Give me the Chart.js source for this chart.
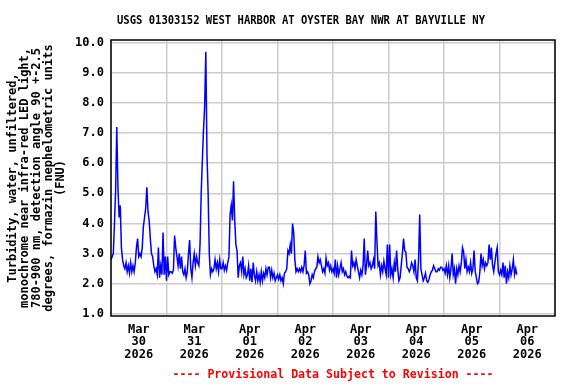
<!DOCTYPE html>
<html>
<head>
<meta charset="utf-8">
<script src="https://cdn.jsdelivr.net/npm/chart.js@4.4.0/dist/chart.umd.min.js"></script>
<style>
  html, body { margin: 0; padding: 0; background: #fff; }
</style>
</head>
<body>
<canvas id="turbidity-chart" width="576" height="384"></canvas>
<script>
const chartTitle = 'USGS 01303152 WEST HARBOR AT OYSTER BAY NWR AT BAYVILLE NY';
const footerNote = '---- Provisional Data Subject to Revision ----';
const yTitleLines = [
    'Turbidity, water, unfiltered,',
    'monochrome near infra-red LED light,',
    '780-900 nm, detection angle 90 +-2.5',
    'degrees, formazin nephelometric units',
    '(FNU)'
];

// x labels, one per day (drawn at noon)
const dayMonths = ['Mar', 'Mar', 'Apr', 'Apr', 'Apr', 'Apr', 'Apr', 'Apr'];
const dayNums = ['30', '31', '01', '02', '03', '04', '05', '06'];
const dayYears = ['2026', '2026', '2026', '2026', '2026', '2026', '2026', '2026'];
const yTickValues = [1, 2, 3, 4, 5, 6, 7, 8, 9, 10];

// readings every half hour, starting Mar 30 00:00
const stepHours = 0.5;
const mar30 = [2.8, 2.9, 3.0, 4.0, 5.1, 7.2, 5.2, 4.2, 4.6, 3.2, 2.8, 2.6, 2.5, 2.7, 2.4, 2.6,
    2.35, 2.7, 2.4, 2.6, 2.4, 2.7, 3.2, 3.5, 2.9, 3.0, 2.9, 3.2, 3.9, 4.2, 4.5, 5.2,
    4.4, 4.1, 3.5, 3.0, 2.9, 2.6, 2.4, 2.5, 2.3, 3.2, 2.2, 2.6, 2.3, 3.7, 2.3, 2.9];
const mar31 = [2.1, 2.9, 2.3, 2.4, 2.4, 2.35, 2.45, 3.6, 3.2, 2.9, 2.6, 3.0, 2.5, 2.9, 2.4, 2.3,
    2.5, 2.2, 2.4, 3.0, 3.45, 2.5, 2.2, 2.7, 3.0, 2.6, 2.9, 2.7, 2.6, 3.3, 5.0, 6.1,
    7.1, 7.9, 9.7, 6.3, 5.0, 3.0, 2.3, 2.5, 2.4, 2.5, 2.8, 2.5, 2.7, 2.4, 2.8, 2.5];
const apr01 = [2.5, 2.7, 2.45, 2.6, 2.45, 2.7, 2.9, 4.3, 4.6, 4.1, 5.4, 4.1, 3.3, 3.1, 2.2, 2.6,
    2.7, 2.4, 2.9, 2.3, 2.5, 2.2, 2.3, 2.6, 2.1, 2.5, 2.05, 2.7, 2.3, 2.1, 2.4, 2.1,
    2.3, 2.05, 2.4, 2.1, 2.35, 2.2, 2.5, 2.3, 2.55, 2.55, 2.2, 2.45, 2.2, 2.35, 2.1, 2.2];
const apr02 = [2.3, 2.15, 2.3, 2.1, 2.2, 2.0, 2.35, 2.4, 2.5, 3.1, 3.0, 3.3, 3.0, 4.0, 3.7, 2.8,
    2.4, 2.5, 2.4, 2.5, 2.4, 2.55, 2.4, 2.6, 3.1, 2.35, 2.4, 2.3, 2.0, 2.1, 2.3, 2.2,
    2.4, 2.5, 2.55, 2.9, 2.7, 2.8, 2.6, 2.4, 2.5, 2.35, 2.85, 2.6, 2.7, 2.45, 2.6, 2.4];
const apr03 = [2.5, 2.35, 2.8, 2.2, 2.6, 2.3, 2.5, 2.7, 2.4, 2.5, 2.3, 2.4, 2.25, 2.2, 2.25, 2.2,
    3.1, 2.6, 2.7, 2.5, 2.8, 2.6, 2.4, 2.2, 2.45, 2.3, 2.6, 3.5, 2.3, 2.6, 3.1, 2.6,
    2.7, 2.5, 2.6, 2.8, 2.5, 4.4, 3.4, 2.6, 2.7, 2.3, 2.6, 2.4, 2.75, 2.5, 2.3, 3.3];
const apr04 = [2.2, 3.3, 2.3, 2.5, 2.2, 2.7, 2.4, 3.1, 2.5, 2.1, 2.2, 2.6, 3.0, 3.5, 3.1, 3.05,
    2.55, 2.5, 2.4, 2.5, 2.7, 2.6, 2.4, 2.8, 2.2, 2.1, 2.8, 4.3, 2.5, 2.3, 2.1, 2.2,
    2.35, 2.1, 2.05, 2.15, 2.3, 2.4, 2.45, 2.6, 2.5, 2.4, 2.4, 2.5, 2.45, 2.55, 2.55, 2.45];
const apr05 = [2.5, 2.35, 2.6, 2.3, 2.6, 2.2, 2.5, 3.0, 2.3, 2.5, 2.0, 2.5, 2.3, 2.6, 2.4, 2.7,
    3.2, 3.05, 2.5, 2.8, 2.4, 2.55, 2.4, 2.7, 2.35, 2.5, 3.1, 2.4, 2.2, 2.0, 2.05, 2.4,
    3.0, 2.6, 2.8, 2.5, 2.7, 2.6, 2.7, 3.3, 2.8, 3.2, 2.6, 2.4, 2.7, 3.0, 3.2, 2.4];
const apr06 = [2.3, 2.45, 2.3, 2.7, 2.2, 2.6, 2.0, 2.4, 2.2, 2.6, 2.3, 2.5, 2.8, 2.3, 2.5, 2.3];

const turbidity = [...mar30, ...mar31, ...apr01, ...apr02, ...apr03, ...apr04, ...apr05, ...apr06];

const xTickHours = [];
for (let h = 0; h <= 192; h += 12) xTickHours.push(h);

const FONT = '"DejaVu Sans Mono", monospace';

const frameAndText = {
    id: 'frameAndText',
    afterDraw(chart) {
        const { ctx, chartArea } = chart;
        ctx.save();
        ctx.strokeStyle = '#000';
        ctx.lineWidth = 1.5;
        ctx.strokeRect(chartArea.left, chartArea.top,
            chartArea.right - chartArea.left, chartArea.bottom - chartArea.top);
        ctx.font = 'bold 12px ' + FONT;
        ctx.textAlign = 'center';
        ctx.textBaseline = 'middle';
        ctx.fillStyle = '#000';
        // title font in the original is a narrower cell, squeeze to its width
        ctx.fillText(chartTitle, 301, 21, 368);
        ctx.fillStyle = '#ff0000';
        ctx.fillText(footerNote, (chartArea.left + chartArea.right) / 2, 375, 321);
        ctx.restore();
    }
};

const ctx = document.getElementById('turbidity-chart').getContext('2d');

new Chart(ctx, {
    type: 'line',
    data: {
        datasets: [{
            data: turbidity.map((v, i) => ({ x: i * stepHours, y: v })),
            borderColor: '#0000ff',
            borderWidth: 1.5,
            pointRadius: 0,
            tension: 0,
            fill: false
        }]
    },
    options: {
        responsive: false,
        animation: false,
        layout: { padding: { top: 40, right: 21, left: 0, bottom: 0 } },
        plugins: {
            legend: { display: false },
            tooltip: { enabled: false }
        },
        scales: {
            x: {
                type: 'linear',
                min: 0,
                max: 192,
                afterBuildTicks: scale => {
                    scale.ticks = xTickHours.map(v => ({ value: v }));
                },
                afterFit: scale => { scale.height = 68; },
                border: { display: false },
                grid: {
                    drawTicks: false,
                    lineWidth: 1.5,
                    color: c => (c.tick && c.tick.value % 24 === 0) ? '#cccccc' : 'rgba(0,0,0,0)'
                },
                ticks: {
                    autoSkip: false,
                    maxRotation: 0,
                    padding: 7,
                    color: '#000',
                    font: { family: FONT, size: 12, weight: 'bold', lineHeight: 1.07 },
                    callback: value => {
                        if (value % 24 !== 12) return '';
                        const d = (value - 12) / 24;
                        return [dayMonths[d], dayNums[d], dayYears[d]];
                    }
                }
            },
            y: {
                min: 0.93,
                max: 10.09,
                afterBuildTicks: scale => {
                    scale.ticks = yTickValues.map(v => ({ value: v }));
                },
                afterFit: scale => { scale.width = 111; },
                border: { display: false },
                grid: { drawTicks: false, lineWidth: 1.5, color: '#cccccc' },
                ticks: {
                    padding: 7,
                    color: '#000',
                    font: { family: FONT, size: 12, weight: 'bold' },
                    callback: value => value.toFixed(1)
                },
                title: {
                    display: true,
                    text: yTitleLines,
                    color: '#000',
                    font: { family: FONT, size: 12, weight: 'bold', lineHeight: 1.0 },
                    padding: { top: 7, bottom: 0 }
                }
            }
        }
    },
    plugins: [frameAndText]
});
</script>
</body>
</html>
